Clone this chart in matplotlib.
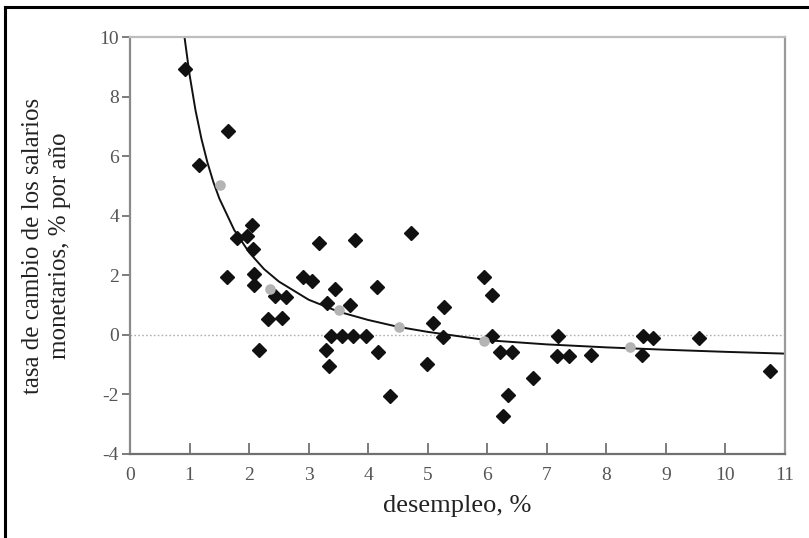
#!/usr/bin/env python3
"""
Curva de Phillips: desempleo frente a tasa de cambio de los salarios monetarios.
"""
import matplotlib.pyplot as plt
from matplotlib.lines import Line2D

# Observaciones anuales (rombos negros)
desempleo = [0.92, 1.65, 1.165, 2.045, 1.80, 1.97, 2.06, 3.18, 1.625, 2.08,
             2.08, 2.90, 3.05, 2.44, 2.62, 2.32, 2.56, 2.17, 3.78, 4.72,
             3.45, 4.15, 5.95, 6.08, 3.31, 3.70, 5.28, 3.37, 3.56, 3.74,
             3.96, 3.29, 3.35, 4.16, 4.37, 5.09, 5.25, 4.99, 6.08, 6.21,
             6.41, 6.34, 6.26, 6.77, 7.19, 7.17, 7.37, 7.75, 8.62, 8.78,
             8.60, 9.56, 10.74]
salarios = [8.94, 6.85, 5.69, 3.68, 3.25, 3.31, 2.87, 3.10, 1.95, 2.03,
            1.67, 1.95, 1.82, 1.30, 1.28, 0.54, 0.56, -0.52, 3.18, 3.43,
            1.53, 1.62, 1.95, 1.34, 1.06, 1.00, 0.94, -0.05, -0.05, -0.05,
            -0.05, -0.50, -1.06, -0.58, -2.04, 0.41, -0.06, -0.98, -0.03, -0.59,
            -0.59, -2.03, -2.72, -1.45, -0.05, -0.70, -0.70, -0.67, -0.05, -0.11,
            -0.67, -0.11, -1.23]

# Promedios por tramo (circulos grises)
prom_desempleo = [1.51, 2.35, 3.51, 4.52, 5.95, 8.40]
prom_salarios = [5.04, 1.53, 0.84, 0.26, -0.22, -0.42]

# Curva ajustada
curva_x = [0.915, 1.0, 1.1, 1.2, 1.3, 1.4, 1.5, 1.75, 2.0, 2.25, 2.5, 3.0,
           3.5, 4.0, 4.5, 5.0, 6.0, 7.0, 8.0, 9.0, 10.0, 11.0]
curva_y = [10.0, 8.74, 7.54, 6.58, 5.79, 5.13, 4.58, 3.52, 2.77, 2.21, 1.79,
           1.18, 0.78, 0.50, 0.27, 0.10, -0.18, -0.32, -0.42, -0.50, -0.57, -0.63]

x_ticks = list(range(0, 12))
y_ticks = [-4, -2, 0, 2, 4, 6, 8, 10]

plt.rcParams["font.family"] = ["Liberation Serif", "DejaVu Serif"]

fig = plt.figure(figsize=(8.09, 5.38), dpi=100)
ax = fig.add_axes([130 / 809, 1 - 454 / 538, 655 / 809, 417 / 538])

# Linea de referencia en cero
ax.plot([0, 11], [0, 0], color="#b0b0b0", linestyle=(0, (1.2, 1.6)),
        linewidth=1.0, zorder=1)

# Curva
ax.plot(curva_x, curva_y, color="#111111", linewidth=1.4, zorder=2)

# Puntos
ax.plot(desempleo, salarios, linestyle="none", marker="D", markersize=6.8,
        color="#111111", zorder=3)
ax.plot(prom_desempleo, prom_salarios, linestyle="none", marker="o",
        markersize=6.6, color="#b4b4b4", zorder=4)

ax.set_xlim(0, 11)
ax.set_ylim(-4, 10)
ax.set_xticks(x_ticks)
ax.set_yticks(y_ticks)
ax.set_yticklabels(["-4", "-2", "0", "2", "4", "6", "8", "10"])

ax.tick_params(axis="x", direction="in", length=8, width=1.2, color="#666666",
               labelsize=14, labelcolor="#555555", pad=9)
ax.tick_params(axis="y", direction="out", length=6, width=1.2, color="#666666",
               labelsize=14, labelcolor="#555555", pad=2)

ax.spines["top"].set_color("#bdbdbd")
ax.spines["left"].set_color("#8a8a8a")
ax.spines["right"].set_color("#9a9a9a")
ax.spines["bottom"].set_color("#707070")
for s in ax.spines.values():
    s.set_linewidth(1.6)

ax.set_xlabel("desempleo, %", fontsize=19, color="#222222", labelpad=8)
ax.set_ylabel("tasa de cambio de los salarios\nmonetarios, % por año",
              fontsize=18, color="#222222", linespacing=1.3, labelpad=20)

# Marco de la pagina escaneada
fig.add_artist(Line2D([5 / 809, 5 / 809], [0, 1 - 7 / 538], color="black",
                      linewidth=2.2, transform=fig.transFigure))
fig.add_artist(Line2D([5 / 809, 1], [1 - 7 / 538, 1 - 7 / 538], color="black",
                      linewidth=2.2, transform=fig.transFigure))

fig.savefig("out.png", dpi=100)
